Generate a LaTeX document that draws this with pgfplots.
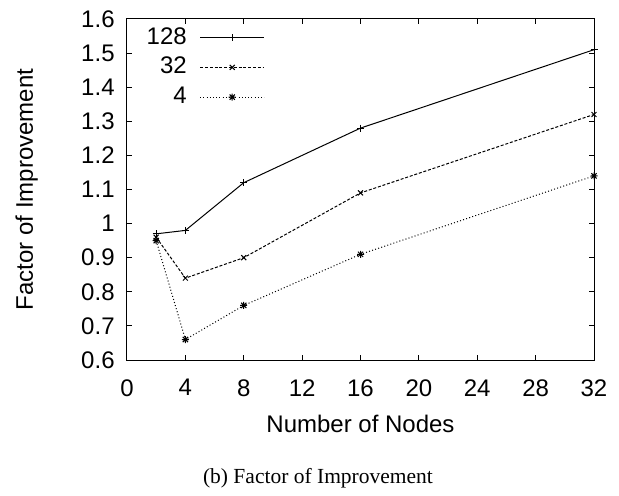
\documentclass[border=0pt]{standalone}
\usepackage{fontspec}
\setmainfont{Liberation Sans}
\newfontfamily\capfont{Liberation Serif}
\usepackage{pgfplots}
\pgfplotsset{compat=1.18}

% gnuplot point type 3: plus and cross overlaid
\pgfdeclareplotmark{gpstar}{%
  \pgfpathmoveto{\pgfqpoint{-\pgfplotmarksize}{0pt}}%
  \pgfpathlineto{\pgfqpoint{\pgfplotmarksize}{0pt}}%
  \pgfpathmoveto{\pgfqpoint{0pt}{-\pgfplotmarksize}}%
  \pgfpathlineto{\pgfqpoint{0pt}{\pgfplotmarksize}}%
  \pgfpathmoveto{\pgfqpoint{-.75\pgfplotmarksize}{-.75\pgfplotmarksize}}%
  \pgfpathlineto{\pgfqpoint{.75\pgfplotmarksize}{.75\pgfplotmarksize}}%
  \pgfpathmoveto{\pgfqpoint{-.75\pgfplotmarksize}{.75\pgfplotmarksize}}%
  \pgfpathlineto{\pgfqpoint{.75\pgfplotmarksize}{-.75\pgfplotmarksize}}%
  \pgfusepathqstroke}

\begin{document}
\fontsize{12bp}{14bp}\selectfont
\begin{tikzpicture}
\path[use as bounding box] (-63.5bp,-68bp) rectangle (246bp,180bp);
\begin{axis}[
    scale only axis,
    width=233.5bp,
    height=170.5bp,
    xmin=0, xmax=32,
    ymin=0.6, ymax=1.6,
    xtick={0,4,...,32},
    ytick={0.6,0.7,...,1.61},
    /pgf/number format/assume math mode=true,
    yticklabel style={/pgf/number format/fixed, xshift=-2bp},
    xticklabel style={yshift=-5.5bp},
    tick align=inside,
    major tick length=2.5bp,
    axis line style={line width=0.5bp},
    every tick/.style={black, line width=0.5bp},
    xlabel={Number of Nodes},
    ylabel={Factor of Improvement},
    xlabel style={at={(axis description cs:0.5,0)}, anchor=base, yshift=-36bp},
    ylabel style={at={(axis description cs:-0.2013,0.5)}, anchor=base},
    legend plot pos=right,
    legend cell align=right,
    legend style={draw=none, fill=none, at={(axis description cs:0.02,1.0)}, anchor=north west,
        row sep=0.75bp, column sep=4.5bp, font=\fontsize{12bp}{12.5bp}\selectfont},
    legend image code/.code={%
        \draw[mark repeat=2,mark phase=2] plot coordinates {(0bp,0bp) (16bp,0bp) (32bp,0bp)};},
]
\addplot[black, line width=0.5bp, mark=+, mark size=1.75bp, mark options={solid}] coordinates {
    (2,0.97) (4,0.98) (8,1.12) (16,1.28) (32,1.51)
};
\addlegendentry{128}
\addplot[black, line width=0.5bp, dash pattern=on 1.5bp off 0.9bp, mark=x, mark size=1.75bp, mark options={solid}] coordinates {
    (2,0.96) (4,0.84) (8,0.90) (16,1.09) (32,1.32)
};
\addlegendentry{32}
\addplot[black, line width=0.5bp, dash pattern=on 0.5bp off 1.1bp, mark=gpstar, mark size=1.75bp, mark options={solid}] coordinates {
    (2,0.95) (4,0.66) (8,0.76) (16,0.91) (32,1.14)
};
\addlegendentry{4}
\end{axis}
\node[anchor=base, font=\capfont\fontsize{10.75bp}{12bp}\selectfont] at (95.5bp,-61.5bp) {(b) Factor of Improvement};
\end{tikzpicture}
\end{document}
